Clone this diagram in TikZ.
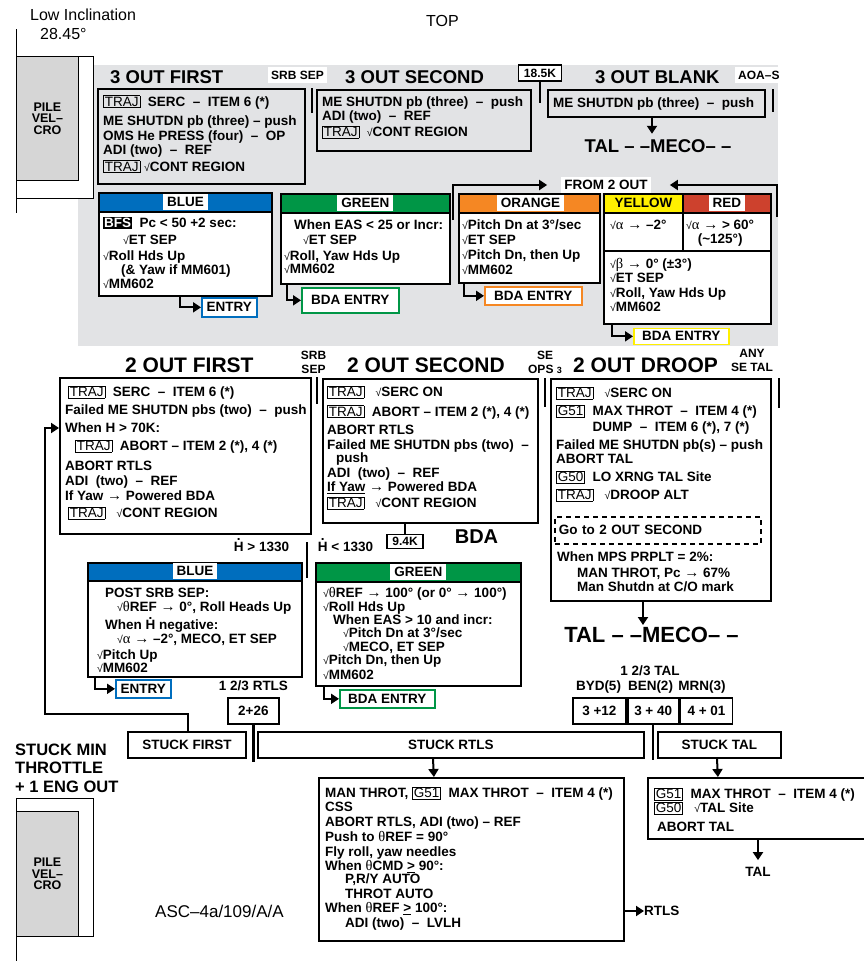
\documentclass[tikz,border=0pt]{standalone}
\usepackage{fontspec}
\setmainfont{Liberation Sans}
\newfontfamily\grk{Liberation Serif}
\usetikzlibrary{positioning,arrows.meta}

\definecolor{bggray}{RGB}{226,227,229}
\definecolor{pilegray}{RGB}{214,214,214}
\definecolor{blueband}{RGB}{0,110,190}
\definecolor{greenband}{RGB}{0,150,70}
\definecolor{orangeband}{RGB}{245,135,35}
\definecolor{yellowband}{RGB}{255,240,0}
\definecolor{redband}{RGB}{205,65,45}

\newcommand\bodyfont{\fontsize{13.5}{14.5}\selectfont\bfseries}
\newcommand\smallfont{\fontsize{12}{13.5}\selectfont\bfseries}
\newcommand\headfont{\fontsize{18.5}{20}\selectfont\bfseries}
\newcommand\bigfont{\fontsize{21}{23}\selectfont\bfseries}
\newcommand\talfont{\fontsize{22}{24}\selectfont\bfseries}
\newcommand\stuckfont{\fontsize{16.5}{18.5}\selectfont\bfseries}
\newcommand\plainfont{\fontsize{16}{18}\selectfont}
\newcommand\ascfont{\fontsize{17}{19}\selectfont}
\newcommand\pilefont{\fontsize{12.5}{11.5}\selectfont\bfseries}
\newcommand\fst{\rule{0pt}{11pt}}
\newcommand\chk{{\mdseries\fontsize{10.5}{10.5}\selectfont √}}
\newcommand\galpha{{\grk\mdseries\fontsize{14.5}{14}\selectfont α}}
\newcommand\gbeta{{\grk\mdseries\fontsize{14.5}{14}\selectfont β}}
\newcommand\gtheta{{\grk\mdseries\fontsize{14.5}{14}\selectfont θ}}
\newcommand\toarr{{\grk\mdseries\fontsize{15}{14}\selectfont →}}
\newcommand\keybox[1]{{\fboxsep=1pt\fboxrule=0.7pt\fbox{\mdseries #1}}}
\newcommand\bfsbox{{\fboxsep=1pt\colorbox{black}{\textcolor{white}{BFS}}}}
\newcommand\Hdot{\leavevmode\vbox{\offinterlineskip\hbox to \fontcharwd\font`H{\hss.\hss}\kern0.08em\hbox{H}}}

\begin{document}
\begin{tikzpicture}[x=1pt,y=-1pt,
    frame/.style={draw, line width=1.8pt, anchor=north west, inner sep=0pt},
    band/.style 2 args={frame, fill=white, path picture={
        \fill[#1] (path picture bounding box.north west) rectangle
          ([yshift=-#2]path picture bounding box.north east);
        \draw[line width=1.8pt] ([yshift=-#2]path picture bounding box.north west) --
          ([yshift=-#2]path picture bounding box.north east);}},
    hlabel/.style={fill=white, inner xsep=4pt, inner ysep=0pt, minimum height=16pt, font=\bodyfont},
    txt/.style={anchor=north west, align=left, inner sep=0pt, font=\bodyfont},
    lbl/.style={inner sep=0pt, font=\bodyfont},
    headline/.style={anchor=base west, inner sep=0pt, font=\headfont},
    bighead/.style={anchor=base west, inner sep=0pt, font=\bigfont},
    tag/.style={fill=white, inner xsep=3pt, inner ysep=4pt, font=\smallfont},
    entrybox/.style={draw=#1, line width=1.6pt, fill=white, anchor=north west, inner sep=0pt, font=\bodyfont},
    stuck/.style={frame, minimum height=26pt, font=\bodyfont},
    pile/.style={frame, line width=0.8pt},
    arr/.style={line width=2pt, -{Triangle[length=8pt,width=10pt]}},
    bar/.style={line width=2.5pt}]
\useasboundingbox (0,0) rectangle (864,962);
\clip (0,0) rectangle (864,962);
\fill[bggray] (78,65) rectangle (778,346);

% pile velcro, top
\node[pile, fill=white, minimum width=77pt, minimum height=142pt] (pv1f) at (16,56) {};
\node[pile, fill=pilegray, minimum width=62pt, minimum height=124pt, align=center, font=\pilefont] (pv1) at (16,56) {PILE\\VEL–\\CRO};
\draw[line width=0.8pt] ([yshift=27pt]pv1f.north west) -- ([yshift=-14pt]pv1f.south west);
\node[anchor=base west, inner sep=0pt, font=\plainfont] (lowinc) at (30,20) {Low Inclination};
\node[anchor=base west, inner sep=0pt, font=\plainfont] (incl) at (40,39.5) {28.45°};
\node[anchor=base west, inner sep=0pt, font=\plainfont] (topl) at (426,26) {TOP};

% three out
\node[headline] (h3f) at (110,83) {3 OUT FIRST};
\node[tag, anchor=base west] (srb1) at (268,79) {SRB SEP};
\node[headline] (h3s) at (345,83) {3 OUT SECOND};
\node[draw, line width=1.5pt, fill=white, inner sep=0pt, minimum width=43pt, minimum height=16pt, font=\smallfont] (k185) at (540,73) {18.5K};
\node[headline] (h3b) at (595,83) {3 OUT BLANK};
\node[tag, anchor=base west] (aoa) at (735,79) {AOA–S};

\node[frame, minimum width=207pt, minimum height=95pt] (f3) at (97,88) {};
\node[txt] (f3t) at (103,95) {\fst\keybox{TRAJ}\ \ SERC\ \ –\ \ ITEM 6 (*)\\[5pt]
  ME SHUTDN pb (three) – push\\
  OMS He PRESS (four)\ \ –\ \ OP\\
  ADI (two)\ \ –\ \ REF\\[2pt]
  \keybox{TRAJ} \chk CONT REGION};
\draw[bar] ([xshift=6pt]f3.north east) -- ++(0,25);

\node[frame, minimum width=214pt, minimum height=61pt] (s3) at (316,89) {};
\node[txt] (s3t) at (322,95.5) {\fst ME SHUTDN pb (three)\ \ –\ \ push\\[-0.5pt]
  ADI (two)\ \ –\ \ REF\\[1.5pt]
  \keybox{TRAJ}\ \ \chk CONT REGION};
\draw[bar] (k185.south) -- ++(0,21);

\node[frame, minimum width=217pt, minimum height=27pt] (b3) at (547,89) {};
\node[txt] (b3t) at (553,96) {\fst ME SHUTDN pb (three)\ \ –\ \ push};
\draw[bar] ([xshift=7pt]b3.north east) -- ++(0,23);
\node[font=\headfont, inner sep=0pt] (tal1) at (658,146) {TAL – –MECO– –};
\draw[arr] ([xshift=105pt]b3.south west) -- ([xshift=-6pt,yshift=5.5pt]tal1.north);

% colour boxes, 3 out
\node[band={blueband}{19pt}, minimum width=173pt, minimum height=103pt] (bl1) at (98,192) {};
\node[hlabel] (bl1l) at ([yshift=-9.5pt]bl1.north) {BLUE};
\node[txt] (bl1t) at (103,216.5) {\fst\bfsbox\ \ Pc < 50 +2 sec:\\[2.5pt]
  \hspace*{20pt}\chk ET SEP\\[1.5pt]
  \chk Roll Hds Up\\[-0.5pt]
  \hspace*{18pt}(\& Yaw if MM601)\\[-0.5pt]
  \chk MM602};
\node[entrybox=blueband, minimum width=55pt, minimum height=19pt] (en1) at (201,297) {ENTRY};
\draw[arr] ([xshift=82pt]bl1.south west) |- (en1.west);

\node[band={greenband}{19pt}, minimum width=169pt, minimum height=90pt] (gr1) at (280,193) {};
\node[hlabel] (gr1l) at ([yshift=-9.5pt]gr1.north) {GREEN};
\node[txt] (gr1t) at (284,218.5) {\fst\hspace*{10pt}When EAS < 25 or Incr:\\[0.5pt]
  \hspace*{19pt}\chk ET SEP\\[1.5pt]
  \chk Roll, Yaw Hds Up\\[-1.5pt]
  \chk MM602};
\node[entrybox=greenband, minimum width=97pt, minimum height=25pt] (bd1) at (301,287) {BDA ENTRY};
\draw[arr] ([xshift=7pt]gr1.south west) |- (bd1.west);

\node[band={orangeband}{19pt}, minimum width=141pt, minimum height=89pt] (or1) at (458,193) {};
\node[hlabel] (or1l) at ([xshift=1pt,yshift=-9.5pt]or1.north) {ORANGE};
\node[txt] (or1t) at (462,218.5) {\fst\chk Pitch Dn at 3°/sec\\[0.5pt]
  \chk ET SEP\\[0.5pt]
  \chk Pitch Dn, then Up\\[0.5pt]
  \chk MM602};
\node[entrybox=orangeband, minimum width=97pt, minimum height=18pt] (bd2) at (484,286) {BDA ENTRY};
\draw[arr] ([xshift=6pt]or1.south west) |- (bd2.west);

\node[frame, fill=white, minimum width=167pt, minimum height=130pt, path picture={
    \fill[yellowband] (path picture bounding box.north west) rectangle
      ([xshift=79pt,yshift=-19pt]path picture bounding box.north west);
    \fill[redband] ([xshift=79pt]path picture bounding box.north west) rectangle
      ([yshift=-19pt]path picture bounding box.north east);
    \draw[line width=1.8pt] ([yshift=-19pt]path picture bounding box.north west) --
      ([yshift=-19pt]path picture bounding box.north east);
    \draw[line width=1.8pt] ([yshift=-57pt]path picture bounding box.north west) --
      ([yshift=-57pt]path picture bounding box.north east);
    \draw[line width=1.8pt] ([xshift=79pt]path picture bounding box.north west) --
      ([xshift=79pt,yshift=-57pt]path picture bounding box.north west);}] (yr) at (603,193) {};
\node[hlabel, fill=none] (yrl1) at ([xshift=-44pt,yshift=-9.5pt]yr.north) {YELLOW};
\node[hlabel] (yrl2) at ([xshift=39.5pt,yshift=-9.5pt]yr.north) {RED};
\node[txt] (yrt1) at (610,218.5) {\fst\chk\galpha{} \toarr{} –2°};
\node[txt, align=center] (yrt2) at (686,218.5) {\fst\chk\galpha{} \toarr{} > 60°\\[-0.5pt](\textasciitilde125°)};
\node[txt] (yrt3) at (610,257.5) {\fst\chk\gbeta{} \toarr{} 0° (±3°)\\[-0.5pt]
  \chk ET SEP\\[0.5pt]
  \chk Roll, Yaw Hds Up\\[-0.5pt]
  \chk MM602};
\node[entrybox=yellowband, minimum width=95pt, minimum height=16pt] (bd3) at (633,327.5) {BDA ENTRY};
\draw[arr] ([xshift=9pt]yr.south west) |- (bd3.west);

\node[tag, font=\bodyfont, inner ysep=3.5pt] (from2) at (606,185) {FROM 2 OUT};
\draw[arr] ([xshift=-5pt,yshift=-27pt]or1.north west) |- ([xshift=-14pt]from2.west);
\draw[arr] ([xshift=5pt,yshift=-24pt]yr.north east) |- ([xshift=19pt]from2.east);

% two out
\node[bighead] (h2f) at (125,372.5) {2 OUT FIRST};
\node[txt, anchor=north, align=center, font=\smallfont] (srb2) at (313.5,348.5) {\fst SRB\\SEP};
\node[bighead] (h2s) at (347,372.5) {2 OUT SECOND};
\node[txt, anchor=north, align=center, font=\smallfont] (seops) at (545,348.5) {\fst SE\\OPS {\fontsize{9}{9}\selectfont 3}};
\node[bighead] (h2d) at (573,372.5) {2 OUT DROOP};
\node[txt, anchor=north, align=center, font=\smallfont] (anyse) at (752,346.5) {\fst ANY\\SE TAL};

\node[frame, minimum width=251pt, minimum height=156pt] (f2) at (59,377) {};
\node[txt] (f2t) at (65,385.5) {\fst\hspace*{3pt}\keybox{TRAJ}\ \ SERC\ \ –\ \ ITEM 6 (*)\\[3.5pt]
  Failed ME SHUTDN pbs (two)\ \ –\ \ push\\[3.5pt]
  When H > 70K:\\[3.5pt]
  \hspace*{10pt}\keybox{TRAJ}\ \ ABORT – ITEM 2 (*), 4 (*)\\[5.5pt]
  ABORT RTLS\\[0.5pt]
  ADI\ \ (two)\ \ –\ \ REF\\[0.5pt]
  If Yaw \toarr{} Powered BDA\\[2.5pt]
  \hspace*{3pt}\keybox{TRAJ}\ \ \ \chk CONT REGION};
\draw[bar] ([xshift=5pt]f2.north east) -- ++(0,27);

\node[frame, minimum width=215pt, minimum height=144pt] (s2) at (322,378) {};
\node[txt] (s2t) at (327,385.5) {\fst\keybox{TRAJ}\ \ \ \chk SERC ON\\[5pt]
  \keybox{TRAJ}\ \ ABORT – ITEM 2 (*), 4 (*)\\[3.5pt]
  ABORT RTLS\\[0.5pt]
  Failed ME SHUTDN pbs (two)\ \ –\\[-1pt]
  \hspace*{9pt}push\\[0pt]
  ADI\ \ (two)\ \ –\ \ REF\\[-0.5pt]
  \underline{If Yaw} \toarr{} Powered BDA\\[2pt]
  \keybox{TRAJ}\ \ \ \chk CONT REGION};
\draw[bar] ([xshift=6pt]s2.north east) -- ++(0,29);
\node[draw, line width=1.2pt, inner sep=0pt, minimum width=36pt, minimum height=14pt, font=\smallfont] (k94) at (405,541.5) {9.4K};
\draw[bar] (k94.north) -- (k94.north |- s2.south);
\node[font=\fontsize{20}{22}\selectfont\bfseries, inner sep=0pt] (bda) at (476.5,537) {BDA};

\node[frame, minimum width=220pt, minimum height=222pt] (d2) at (550,378) {};
\node[txt] (d2t) at (556,386.5) {\fst\keybox{TRAJ}\ \ \ \chk SERC ON\\[3.5pt]
  \keybox{G51}\ \ MAX THROT\ \ –\ \ ITEM 4 (*)\\[1.5pt]
  \phantom{\keybox{G51}}\ \ DUMP\ \ –\ \ ITEM 6 (*), 7 (*)\\[3.5pt]
  Failed ME SHUTDN pb(s) – push\\[-0.5pt]
  ABORT TAL\\[3.5pt]
  \keybox{G50}\ \ LO XRNG TAL Site\\[3.5pt]
  \keybox{TRAJ}\ \ \ \chk DROOP ALT};
\node[draw, line width=1.6pt, dash pattern=on 5pt off 4pt, anchor=north west, inner xsep=4pt, inner ysep=0pt,
  text width=198pt, align=left, minimum height=27pt, font=\bodyfont] (goto) at (554,516) {\raisebox{-3pt}{Go to 2 OUT SECOND}};
\node[txt] (d2u) at (557,550.5) {\fst When MPS PRPLT = 2\%:\\[1.5pt]
  \hspace*{20pt}MAN THROT, Pc \toarr{} 67\%\\[-0.5pt]
  \hspace*{20pt}Man Shutdn at C/O mark};
\draw[bar] ([xshift=7pt]d2.north east) -- ++(0,30);
\node[font=\talfont, inner sep=0pt] (tal2) at (651.5,635) {TAL – –MECO– –};
\draw[arr] ([xshift=93pt]d2.south west) -- ([xshift=-8.5pt,yshift=2pt]tal2.north);

% colour boxes, 2 out
\node[lbl] (hgt) at (261.5,545) {\Hdot{} > 1330};
\node[lbl] (hlt) at (345.5,545) {\Hdot{} < 1330};
\coordinate (hdiv) at (307,542);
\draw[line width=2pt] (hdiv) -- ++(0,36);

\node[band={blueband}{18pt}, minimum width=214pt, minimum height=114pt] (bl2) at (87,562) {};
\node[hlabel] (bl2l) at ([yshift=-9pt]bl2.north) {BLUE};
\node[txt] (bl2t) at (97,586.5) {\fst\hspace*{8pt}POST SRB SEP:\\[-0.5pt]
  \hspace*{20pt}\chk\gtheta REF \toarr{} 0°, Roll Heads Up\\[1.5pt]
  \hspace*{8pt}When \Hdot{} negative:\\[-0.5pt]
  \hspace*{20pt}\chk\galpha{} \toarr{} –2°, MECO, ET SEP\\[1.5pt]
  \chk Pitch Up\\[-1.5pt]
  \chk MM602};
\node[entrybox=blueband, minimum width=55pt, minimum height=18pt] (en2) at (115,679) {ENTRY};
\draw[arr] ([xshift=8pt]bl2.south west) |- (en2.west);

\node[band={greenband}{19pt}, minimum width=205pt, minimum height=123pt] (gr2) at (315,562) {};
\node[hlabel] (gr2l) at ([yshift=-9.5pt]gr2.north) {GREEN};
\node[txt] (gr2t) at (323,586.5) {\fst\chk\gtheta REF \toarr{} 100° (or 0° \toarr{} 100°)\\[-0.5pt]
  \chk Roll Hds Up\\[-1.5pt]
  \hspace*{10pt}When EAS > 10 and incr:\\[-1.5pt]
  \hspace*{20pt}\chk Pitch Dn at 3°/sec\\[-0.5pt]
  \hspace*{20pt}\chk MECO, ET SEP\\[-1.5pt]
  \chk Pitch Dn, then Up\\[0.5pt]
  \chk MM602};
\node[entrybox=greenband, minimum width=95pt, minimum height=18pt] (bd4) at (339,689) {BDA ENTRY};
\draw[arr] ([xshift=9pt]gr2.south west) |- (bd4.west);

% abort times
\node[lbl] (r123) at (253.5,686) {1 2/3 RTLS};
\node[frame, minimum width=51pt, minimum height=26pt, font=\bodyfont] (r226) at (227,697) {2+26};
\draw[bar] (r226.south) -- ++(0,37);
\node[lbl] (t123) at (650,671) {1 2/3 TAL};
\node[lbl] (byd) at (598.5,687) {BYD(5)};
\node[lbl] (ben) at (650.5,687) {BEN(2)};
\node[lbl] (mrn) at (702,687) {MRN(3)};
\node[frame, minimum width=53pt, minimum height=26pt, font=\bodyfont] (tc1) at (572,697) {3 +12};
\node[frame, minimum width=51pt, minimum height=26pt, font=\bodyfont] (tc2) at (tc1.north east) {3 + 40};
\node[frame, minimum width=52pt, minimum height=26pt, font=\bodyfont] (tc3) at (tc2.north east) {4 + 01};
\draw[bar] (tc2.south) -- ++(0,35);

% stuck throttle
\node[txt, font=\stuckfont] (smt) at (15,743) {\rule{0pt}{12pt}STUCK MIN\\THROTTLE\\+ 1 ENG OUT};
\node[stuck, minimum width=118pt] (sf) at (127,731) {STUCK FIRST};
\node[stuck, minimum width=386pt] (sr) at (257,731) {STUCK RTLS};
\node[stuck, minimum width=123pt] (st) at (657,731) {STUCK TAL};
\coordinate (fb) at (45,714);
\draw[arr] ([xshift=61pt]sf.north west) |- (fb) |- ([yshift=-51pt]f2.north west);

\node[frame, minimum width=305pt, minimum height=163pt] (rb) at (318,777) {};
\node[txt] (rbt) at (325,786.5) {\fst MAN THROT, \keybox{G51}\ \ MAX THROT\ \ –\ \ ITEM 4 (*)\\[-0.5pt]
  CSS\\[0.5pt]
  ABORT RTLS, ADI (two) – REF\\[0.5pt]
  Push to \gtheta REF = 90°\\[0.5pt]
  Fly roll, yaw needles\\[-0.5pt]
  When \gtheta CMD \underline{>} 90°:\\[-1.5pt]
  \hspace*{20pt}P,R/Y AUTO\\[0.5pt]
  \hspace*{20pt}THROT AUTO\\[-0.5pt]
  When \gtheta REF \underline{>} 100°:\\[0.5pt]
  \hspace*{20pt}ADI (two)\ \ –\ \ LVLH};
\draw[arr] ([xshift=176pt]sr.south west) -- ([xshift=-37.5pt]rb.north);
\node[lbl, anchor=west] (rtls) at (644,911) {RTLS};
\draw[arr] (rb.east |- rtls.west) -- (rtls.west);

\node[frame, minimum width=218pt, minimum height=61pt] (tb) at (647,777) {};
\node[txt] (tbt) at (654,787.5) {\fst\keybox{G51}\ \ MAX THROT\ \ –\ \ ITEM 4 (*)\\[-0.5pt]
  \keybox{G50}\ \ \ \chk TAL Site\\[4.5pt]
  \hspace*{3pt}ABORT TAL};
\draw[arr] ([xshift=60pt]st.south west) -- ([xshift=-39pt]tb.north);
\node[lbl] (tal3) at (758,872) {TAL};
\draw[arr] (tal3.north |- tb.south) -- ([yshift=7pt]tal3.north);

% pile velcro, bottom
\node[pile, fill=white, minimum width=77pt, minimum height=138pt] (pv2f) at (16,798) {};
\node[pile, fill=pilegray, minimum width=62pt, minimum height=125pt, align=center, font=\pilefont] (pv2) at (16,811) {PILE\\VEL–\\CRO};
\draw[line width=0.8pt] (pv2f.south west) -- ++(0,24);
\node[anchor=base west, inner sep=0pt, font=\ascfont] (asc) at (155,917) {ASC–4a/109/A/A};
\end{tikzpicture}
\end{document}
